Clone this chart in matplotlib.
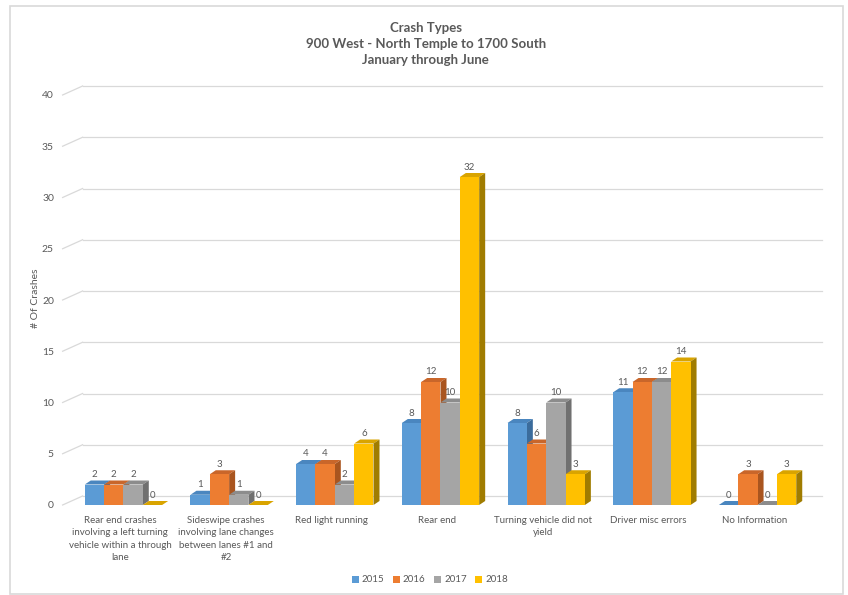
import numpy as np
import matplotlib.pyplot as plt
from matplotlib.patches import Polygon, Rectangle

plt.rcParams['font.family'] = ['Lato', 'DejaVu Sans']

# crash counts per category, January-June of each year
categories = [
    'Rear end crashes\ninvolving a left turning\nvehicle within a through\nlane',
    'Sideswipe crashes\ninvolving lane changes\nbetween lanes #1 and\n#2',
    'Red light running',
    'Rear end',
    'Turning vehicle did not\nyield',
    'Driver misc errors',
    'No Information',
]
years = ['2015', '2016', '2017', '2018']
y2015 = [2, 1, 4, 8, 8, 11, 0]
y2016 = [2, 3, 4, 12, 6, 12, 3]
y2017 = [2, 1, 2, 10, 10, 12, 0]
y2018 = [0, 0, 6, 32, 3, 14, 3]
series = [y2015, y2016, y2017, y2018]

front_cols = ['#5B9BD5', '#ED7D31', '#A5A5A5', '#FFC000']
top_cols = ['#4A86BF', '#C9662A', '#8C8C8C', '#D9A400']
side_cols = ['#3B6C9C', '#A9551F', '#707070', '#A07C00']
txt = '#595959'
grid = '#D9D9D9'

W, H = 848, 595
fig = plt.figure(figsize=(W / 100, H / 100), dpi=100)
left, right, bottom, top = 70.6, 810.4, 505, 95
ax = fig.add_axes([left / W, 1 - bottom / H, (right - left) / W, (bottom - top) / H])
ax.set_xlim(-0.5, 6.5)
ax.set_ylim(0, 40)
for s in ax.spines.values():
    s.set_visible(False)

# pixel -> data unit helpers
px_x = 7.0 / (right - left)
px_y = 40.0 / (bottom - top)

# back wall gridlines with the diagonal floor edge
wall_dx, wall_dy = 12, 9
for v in range(0, 41, 5):
    ax.plot([-0.5 - 8 * px_x, -0.5 + wall_dx * px_x], [v, v + wall_dy * px_y],
            color=grid, lw=0.9, clip_on=False, zorder=0)
    ax.plot([-0.5 + wall_dx * px_x, 6.5 + wall_dx * px_x],
            [v + wall_dy * px_y] * 2, color=grid, lw=0.9, clip_on=False, zorder=0)

ax.set_yticks(range(0, 41, 5))
ax.tick_params(axis='y', length=0, pad=12, labelsize=7.5, labelcolor=txt)
ax.set_xticks([])

# 3-D looking clustered bars; each series sits in front of the previous one
bw = 0.183
ddx, ddy = 6 * px_x, 4 * px_y
x = np.arange(len(categories))
for i, (vals, fc, tc, sc) in enumerate(zip(series, front_cols, top_cols, side_cols)):
    z = 3 + i
    xs = x + (i - 1.5) * bw
    ax.bar(xs, vals, width=bw, color=fc, zorder=z + 0.5, label=years[i])
    for xc, h in zip(xs, vals):
        x0, x1 = xc - bw / 2, xc + bw / 2
        ax.add_patch(Polygon([(x0, h), (x1, h), (x1 + ddx, h + ddy), (x0 + ddx, h + ddy)],
                             closed=True, fc=tc, ec='none', zorder=z, clip_on=False))
        ax.add_patch(Polygon([(x1, 0), (x1 + ddx, ddy), (x1 + ddx, h + ddy), (x1, h)],
                             closed=True, fc=sc, ec='none', zorder=z, clip_on=False))
        ax.text(xc, h + ddy + 1.5 * px_y, str(h), ha='center', va='bottom',
                fontsize=7, color=txt, zorder=10)

for xc, lab in zip(x, categories):
    ax.text(xc - 0.03, -1.1, lab, ha='center', va='top', fontsize=7,
            color=txt, linespacing=1.45)

ax.set_ylabel('# Of Crashes', fontsize=7.5, color=txt, labelpad=2)
ax.yaxis.set_label_coords((40 - left) / (right - left), 0.505)

fig.text(0.502, 1 - 44 / H, 'Crash Types\n900 West - North Temple to 1700 South\nJanuary through June',
         ha='center', va='center', fontsize=9.5, fontweight='bold', color=txt, linespacing=1.45)

leg = ax.legend(loc='center', bbox_to_anchor=(430 / W, 1 - 580 / H), bbox_transform=fig.transFigure,
                ncol=4, frameon=False, fontsize=7, handlelength=0.7, handleheight=0.7,
                handletextpad=0.3, columnspacing=0.9)
for t in leg.get_texts():
    t.set_color(txt)

fig.patches.append(Rectangle((10 / W, 1 - 594 / H), 833 / W, 588 / H, transform=fig.transFigure,
                             fill=False, ec='#D9D9D9', lw=1.2))

fig.savefig('out.png', dpi=100)
